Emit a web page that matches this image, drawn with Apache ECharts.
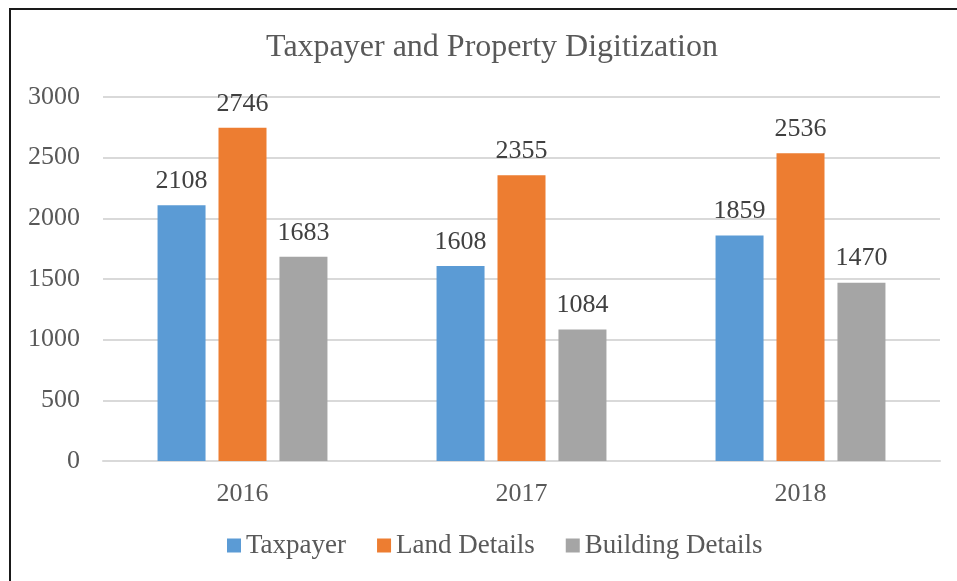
<!DOCTYPE html>
<html>
<head>
<meta charset="utf-8">
<script src="https://cdn.jsdelivr.net/npm/echarts@6/dist/echarts.min.js"></script>
<style>
  html, body { margin: 0; padding: 0; background: #fff; overflow: hidden; }
  #frame {
    position: absolute; left: 9px; top: 8px;
    width: 1000px; height: 620px;
    border: 2px solid #1a1a1a;
  }
  #main { position: absolute; left: 0; top: 0; width: 957px; height: 581px; }
</style>
</head>
<body>
<div id="frame"></div>
<div id="main"></div>
<script>
// data
var years = ['2016', '2017', '2018']
var taxpayer = [2108, 1608, 1859]
var landDetails = [2746, 2355, 2536]
var buildingDetails = [1683, 1084, 1470]

var serif = '"Liberation Serif", "Times New Roman", serif'

var myChart = echarts.init(document.getElementById('main'))

function barSeries(name, data, color) {
  return {
    name: name,
    type: 'bar',
    data: data,
    barWidth: 48,
    barGap: '27%',
    itemStyle: { color: color },
    label: {
      show: true,
      position: 'top',
      distance: 11,
      color: '#404040',
      fontFamily: serif,
      fontSize: 26
    }
  }
}

var option = {
  backgroundColor: 'transparent',
  animation: false,
  title: {
    text: 'Taxpayer and Property Digitization',
    left: 487,
    top: 27,
    textAlign: 'center',
    textStyle: {
      color: '#595959',
      fontFamily: serif,
      fontSize: 32,
      fontWeight: 'normal'
    }
  },
  legend: {
    data: ['Taxpayer', 'Land Details', 'Building Details'],
    left: 222,
    top: 527,
    itemWidth: 14,
    itemHeight: 14,
    itemGap: 31,
    icon: 'rect',
    textStyle: {
      color: '#595959',
      fontFamily: serif,
      fontSize: 27
    }
  },
  grid: {
    left: 103,
    right: 17,
    top: 97,
    bottom: 120
  },
  xAxis: {
    type: 'category',
    data: years,
    axisLine: { lineStyle: { color: '#d9d9d9', width: 2 } },
    axisTick: { show: false },
    axisLabel: {
      color: '#595959',
      fontFamily: serif,
      fontSize: 26,
      margin: 20
    }
  },
  yAxis: {
    type: 'value',
    min: 0,
    max: 3000,
    interval: 500,
    axisLine: { show: false },
    axisTick: { show: false },
    splitLine: { lineStyle: { color: '#d9d9d9', width: 2 } },
    axisLabel: {
      color: '#595959',
      fontFamily: serif,
      fontSize: 26,
      margin: 23,
      formatter: function (v) { return String(v) }
    }
  },
  series: [
    barSeries('Taxpayer', taxpayer, '#5b9bd5'),
    barSeries('Land Details', landDetails, '#ed7d31'),
    barSeries('Building Details', buildingDetails, '#a5a5a5')
  ]
}

myChart.setOption(option)
</script>
</body>
</html>
